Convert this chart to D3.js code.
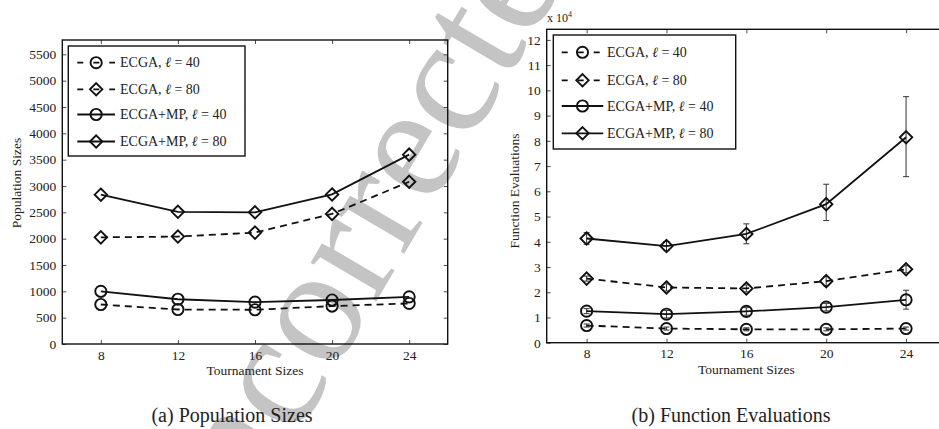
<!DOCTYPE html>
<html>
<head>
<meta charset="utf-8">
<script src="https://cdn.jsdelivr.net/npm/d3@7"></script>
<style>
  body { margin: 0; background: #fff; }
  svg { display: block; }
  text { font-family: "Liberation Serif", "Times New Roman", serif; fill: #222; }
</style>
</head>
<body>
<svg id="fig" width="939" height="429"></svg>
<script>
// tournament sizes
const tournament = [8, 12, 16, 20, 24];
const seriesNames = ["ECGA, ", "ECGA, ", "ECGA+MP, ", "ECGA+MP, "];
const seriesEll = ["40", "80", "40", "80"];

// (a) population sizes
const popEcga40 = [750, 655, 650, 720, 770];
const popEcga80 = [2025, 2040, 2115, 2470, 3080];
const popMp40 = [1000, 850, 795, 835, 895];
const popMp80 = [2835, 2510, 2500, 2840, 3595];

// (b) function evaluations (x 10^4)
const feEcga40 = [0.68, 0.56, 0.53, 0.53, 0.56];
const feEcga80 = [2.54, 2.19, 2.15, 2.44, 2.91];
const feMp40 = [1.25, 1.13, 1.24, 1.41, 1.70];
const feMp80 = [4.13, 3.83, 4.31, 5.49, 8.14];
const feEcga40Lo = [0.62, 0.50, 0.47, 0.47, 0.50];
const feEcga40Hi = [0.74, 0.62, 0.59, 0.59, 0.62];
const feEcga80Lo = [2.44, 2.05, 2.01, 2.26, 2.77];
const feEcga80Hi = [2.64, 2.33, 2.29, 2.62, 3.05];
const feMp40Lo = [1.15, 0.98, 1.09, 1.26, 1.33];
const feMp40Hi = [1.35, 1.28, 1.39, 1.56, 2.08];
const feMp80Lo = [3.90, 3.65, 3.92, 4.84, 6.58];
const feMp80Hi = [4.36, 4.01, 4.71, 6.28, 9.75];

const popTicks = d3.range(0, 5501, 500);
const feTicks = d3.range(0, 13, 1);

const svg = d3.select("#fig");

// watermark behind everything
svg.append("text")
  .attr("transform", "translate(192,614) rotate(-59.5)")
  .attr("text-anchor", "start")
  .style("font-family", "'Liberation Serif', serif")
  .style("font-size", "166px")
  .style("fill", "#c4c4c4")
  .text("Uncorrected");

const markers = ["circle", "diamond", "circle", "diamond"];
const dashed = [true, true, false, false];

function drawMarker(g, type, x, y) {
  if (type === "circle") {
    g.append("circle").attr("cx", x).attr("cy", y).attr("r", 5.6)
      .attr("fill", "none").attr("stroke", "#111").attr("stroke-width", 1.9);
  } else {
    const s = 6.2;
    g.append("path")
      .attr("d", `M${x},${y - s}L${x + s},${y}L${x},${y + s}L${x - s},${y}Z`)
      .attr("fill", "none").attr("stroke", "#111").attr("stroke-width", 1.9);
  }
}

function drawPanel(cfg) {
  const x = d3.scaleLinear().domain([6, 26]).range([cfg.x0, cfg.x1]);
  const y = d3.scaleLinear().domain([0, cfg.ymax]).range([cfg.y1, cfg.y0]);
  const g = svg.append("g");

  // axes with inward ticks
  g.append("g").attr("transform", `translate(0,${cfg.y1})`)
    .call(d3.axisBottom(x).tickValues(tournament).tickSize(-4).tickPadding(6));
  g.append("g").attr("transform", `translate(${cfg.x0},0)`)
    .call(d3.axisLeft(y).tickValues(cfg.ticks).tickFormat(d3.format("d")).tickSize(-4).tickPadding(6));
  g.append("g").attr("transform", `translate(0,${cfg.y0})`)
    .call(d3.axisTop(x).tickValues(tournament).tickSize(-4).tickFormat(""));
  g.append("g").attr("transform", `translate(${cfg.x1},0)`)
    .call(d3.axisRight(y).tickValues(cfg.ticks).tickSize(-4).tickFormat(""));
  g.selectAll(".domain").remove();
  g.selectAll("g").attr("font-family", null).attr("font-size", null);
  g.selectAll(".tick line").attr("stroke", "#222").attr("stroke-width", 0.8);
  g.selectAll(".tick text").style("font-size", "13.5px").attr("fill", "#222");

  g.append("rect").attr("x", cfg.x0).attr("y", cfg.y0)
    .attr("width", cfg.x1 - cfg.x0).attr("height", cfg.y1 - cfg.y0)
    .attr("fill", "none").attr("stroke", "#111").attr("stroke-width", 1.4);

  const line = d3.line().x((d, i) => x(tournament[i])).y(d => y(d));

  cfg.series.forEach((vals, k) => {
    // error bars
    if (cfg.lo) {
      const lo = cfg.lo[k], hi = cfg.hi[k];
      vals.forEach((v, i) => {
        const cx = x(tournament[i]);
        g.append("line").attr("x1", cx).attr("x2", cx)
          .attr("y1", y(lo[i])).attr("y2", y(hi[i]))
          .attr("stroke", "#333").attr("stroke-width", 1);
        [lo[i], hi[i]].forEach(e => {
          g.append("line").attr("x1", cx - 3).attr("x2", cx + 3)
            .attr("y1", y(e)).attr("y2", y(e))
            .attr("stroke", "#333").attr("stroke-width", 1);
        });
      });
    }
    g.append("path").datum(vals).attr("d", line)
      .attr("fill", "none").attr("stroke", "#111").attr("stroke-width", 1.8)
      .attr("stroke-dasharray", dashed[k] ? "7,5" : null);
    vals.forEach((v, i) => drawMarker(g, markers[k], x(tournament[i]), y(v)));
  });

  // legend
  const lg = cfg.legend;
  g.append("rect").attr("x", lg.x).attr("y", lg.y).attr("width", lg.w).attr("height", lg.h)
    .attr("fill", "#fff").attr("stroke", "#111").attr("stroke-width", 1.4);
  lg.rows.forEach((ry, k) => {
    g.append("line").attr("x1", lg.lx0).attr("x2", lg.lx1).attr("y1", ry).attr("y2", ry)
      .attr("stroke", "#111").attr("stroke-width", 1.8)
      .attr("stroke-dasharray", dashed[k] ? "6,10" : null);
    drawMarker(g, markers[k], (lg.lx0 + lg.lx1) / 2, ry);
    const t = g.append("text").attr("x", lg.tx).attr("y", ry + 4.5)
      .style("font-size", "14px");
    t.append("tspan").text(seriesNames[k]);
    t.append("tspan").style("font-style", "italic").text("\u2113");
    t.append("tspan").text(" = " + seriesEll[k]);
  });

  // axis titles
  g.append("text").attr("x", (x(8) + x(24)) / 2).attr("y", cfg.y1 + 31)
    .attr("text-anchor", "middle").style("font-size", "13.5px").text("Tournament Sizes");
  g.append("text").attr("transform", `translate(${cfg.ylabX},${cfg.ylabY}) rotate(-90)`)
    .attr("text-anchor", "middle").style("font-size", "13.5px").text(cfg.ylabel);

  // caption
  g.append("text").attr("x", cfg.capX).attr("y", 422)
    .attr("text-anchor", "middle").style("font-size", "20px").text(cfg.caption);
}

drawPanel({
  x0: 62.3, x1: 447.7, y0: 40, y1: 344, ymax: 5772, ticks: popTicks,
  series: [popEcga40, popEcga80, popMp40, popMp80],
  legend: { x: 68.3, y: 46, w: 176.7, h: 110, rows: [62.7, 89.3, 114.5, 141.5],
            lx0: 77.3, lx1: 115, tx: 120 },
  ylabel: "Population Sizes", ylabX: 21, ylabY: 183,
  caption: "(a) Population Sizes", capX: 232
});

drawPanel({
  x0: 546.7, x1: 946, y0: 29.3, y1: 342.7, ymax: 12.42, ticks: feTicks,
  series: [feEcga40, feEcga80, feMp40, feMp80],
  lo: [feEcga40Lo, feEcga80Lo, feMp40Lo, feMp80Lo],
  hi: [feEcga40Hi, feEcga80Hi, feMp40Hi, feMp80Hi],
  legend: { x: 553.3, y: 35, w: 182.4, h: 114, rows: [52.3, 80.3, 106, 133.3],
            lx0: 561.7, lx1: 603.3, tx: 607 },
  ylabel: "Function Evaluations", ylabX: 519, ylabY: 191,
  caption: "(b) Function Evaluations", capX: 731
});

// exponent note on the right panel
const ex = svg.append("text").attr("x", 547).attr("y", 22).style("font-size", "12px");
ex.append("tspan").text("x 10");
ex.append("tspan").attr("dy", -5).style("font-size", "8px").text("4");
</script>
</body>
</html>
